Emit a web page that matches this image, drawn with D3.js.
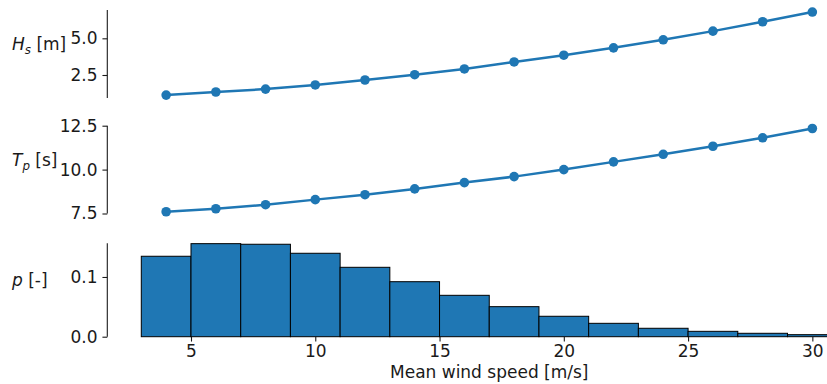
<!DOCTYPE html>
<html>
<head>
<meta charset="utf-8">
<script src="https://cdn.jsdelivr.net/npm/d3@7"></script>
<style>
  html, body { margin: 0; padding: 0; background: #fff; }
  svg { display: block; font-family: "DejaVu Sans", sans-serif; }
</style>
</head>
<body>
<svg id="chart" width="827" height="384"></svg>
<script>
// ---- data ----
const windSpeeds = [4, 6, 8, 10, 12, 14, 16, 18, 20, 22, 24, 26, 28, 30];
const hsValues   = [1.13, 1.34, 1.54, 1.82, 2.16, 2.52, 2.91, 3.39, 3.85, 4.35, 4.90, 5.49, 6.13, 6.79];
const tpValues   = [7.60, 7.77, 8.00, 8.29, 8.57, 8.90, 9.26, 9.60, 10.00, 10.44, 10.87, 11.33, 11.81, 12.34];
const binEdgesLo = [3, 5, 7, 9, 11, 13, 15, 17, 19, 21, 23, 25, 27, 29];
const binWidth   = 2;
const probValues = [0.1347, 0.1558, 0.1548, 0.1397, 0.1162, 0.0921, 0.0693, 0.0503, 0.0342, 0.0224, 0.0141, 0.0090, 0.0057, 0.0034];
const xTicks     = [5, 10, 15, 20, 25, 30];
const hsTicks    = [2.5, 5.0];
const tpTicks    = [7.5, 10.0, 12.5];
const pTicks     = [0.0, 0.1];

// ---- layout ----
const svg = d3.select("#chart");
const blue = "#1f77b4";
const ink = "#1a1a1a";
const fs = 17;
const tickLen = 4.86;
const tickPad = 4.86;
const spineX = 107.3;

const x = d3.scaleLinear().domain([1.6, 32.4]).range([106.5, 872]);

const panels = [
  { key: "hs", y: d3.scaleLinear().domain([0.932, 6.93]).range([98, 10]), ticks: hsTicks, spine: [98, 10], mid: 54,
    label: [{t: "H", it: true}, {t: "s", it: true, sub: true}, {t: " [m]"}] },
  { key: "tp", y: d3.scaleLinear().domain([7.5, 12.5]).range([213.5, 125.7]), ticks: tpTicks, spine: [213.5, 125.7], mid: 170,
    label: [{t: "T", it: true}, {t: "p", it: true, sub: true}, {t: " [s]"}] },
  { key: "p", y: d3.scaleLinear().domain([0, 0.1564]).range([336.7, 243.3]), ticks: pTicks, spine: [336.7, 243.3], mid: 290,
    label: [{t: "p", it: true}, {t: " [-]"}] }
];

panels.forEach(p => {
  const g = svg.append("g");
  g.append("line")
    .attr("x1", spineX).attr("x2", spineX)
    .attr("y1", p.spine[0]).attr("y2", p.spine[1])
    .attr("stroke", ink).attr("stroke-width", 1.1);
  const ax = d3.axisLeft(p.y).tickValues(p.ticks).tickFormat(d3.format(".1f"))
    .tickSize(tickLen).tickPadding(tickPad);
  const ag = g.append("g").attr("transform", `translate(${spineX},0)`).call(ax);
  ag.select(".domain").remove();
  ag.selectAll(".tick line").attr("stroke", ink).attr("stroke-width", 1.1);
  ag.selectAll(".tick text").attr("fill", ink).attr("font-size", fs)
    .attr("font-family", "DejaVu Sans, sans-serif");

  const lab = g.append("text").attr("x", 12).attr("y", p.mid - 3.9)
    .attr("font-size", fs).attr("fill", ink);
  let subbed = false;
  p.label.forEach(part => {
    const ts = lab.append("tspan").text(part.t);
    if (part.it) ts.attr("font-style", "italic");
    if (part.sub) {
      ts.attr("font-size", fs * 0.7).attr("dy", fs * 0.24);
      subbed = true;
    } else if (subbed) {
      ts.attr("dy", -fs * 0.24);
      subbed = false;
    }
  });
});

// ---- line panels ----
[[panels[0], hsValues], [panels[1], tpValues]].forEach(([p, vals]) => {
  const pts = windSpeeds.map((w, i) => [w, vals[i]]);
  const line = d3.line().x(d => x(d[0])).y(d => p.y(d[1]));
  svg.append("path").datum(pts).attr("d", line)
    .attr("fill", "none").attr("stroke", blue).attr("stroke-width", 2.5)
    .attr("stroke-linejoin", "round").attr("stroke-linecap", "round");
  svg.append("g").selectAll("circle").data(pts).join("circle")
    .attr("cx", d => x(d[0])).attr("cy", d => p.y(d[1])).attr("r", 4.8)
    .attr("fill", blue);
});

// ---- histogram panel ----
const pp = panels[2];
svg.append("g").selectAll("rect").data(binEdgesLo.map((lo, i) => ({lo, v: probValues[i]})))
  .join("rect")
  .attr("x", d => x(d.lo))
  .attr("width", d => x(d.lo + binWidth) - x(d.lo))
  .attr("y", d => pp.y(d.v))
  .attr("height", d => pp.y(0) - pp.y(d.v))
  .attr("fill", blue).attr("stroke", "#000").attr("stroke-width", 1);

const xa = d3.axisBottom(x).tickValues(xTicks).tickFormat(d3.format("d"))
  .tickSize(tickLen).tickPadding(3.6);
const xg = svg.append("g").attr("transform", `translate(0,${pp.y(0)})`).call(xa);
xg.select(".domain").remove();
xg.selectAll(".tick line").attr("stroke", ink).attr("stroke-width", 1.1);
xg.selectAll(".tick text").attr("fill", ink).attr("font-size", fs)
  .attr("font-family", "DejaVu Sans, sans-serif");

svg.append("text").attr("x", (x.range()[0] + x.range()[1]) / 2).attr("y", 377.8)
  .attr("text-anchor", "middle").attr("font-size", fs).attr("fill", ink)
  .text("Mean wind speed [m/s]");
</script>
</body>
</html>
